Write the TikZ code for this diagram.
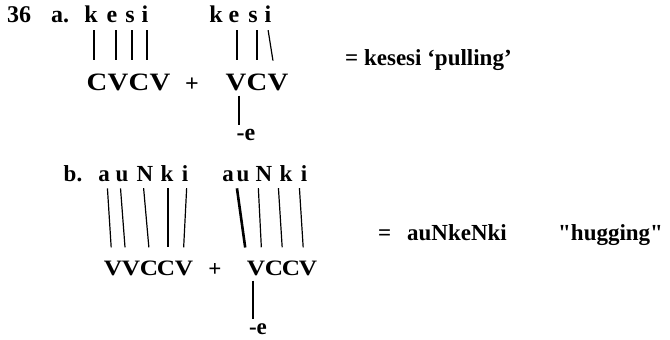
\documentclass[tikz,border=0pt]{standalone}
\usepackage{fontspec}
\setmainfont{Liberation Serif}[Ligatures=TeXOff]
\newfontfamily\slotfont{Liberation Serif}[FakeStretch=1.15, Ligatures=TeXOff]
\usetikzlibrary{positioning}

\begin{document}
\begin{tikzpicture}[x=1pt, y=-1pt,
  seg/.style={inner sep=0pt, anchor=base, font=\fontsize{24}{28}\selectfont\bfseries},
  slot/.style={inner sep=0pt, anchor=base, font=\slotfont\fontsize{25}{30}\selectfont\bfseries},
  segb/.style={seg, font=\fontsize{23}{27}\selectfont\bfseries},
  slotb/.style={slot, font=\slotfont\fontsize{22}{26}\selectfont\bfseries},
  link/.style={line width=1.2pt, shorten <=7pt, shorten >=13pt},
  heavy/.style={link, line width=2.6pt},
  stem/.style={line width=1.2pt, shorten <=5pt, shorten >=4pt}
]
  \useasboundingbox (0,0) rectangle (670,340);

  % 36 a.
  \node[seg] (num) at (19,23) {36};
  \node[seg] (laba) at (60,23) {a.};
  \node[seg] (ak) at (91,23) {k};
  \node[seg] (ae) at (112,23) {e};
  \node[seg] (as) at (130,23) {s};
  \node[seg] (ai) at (145,23) {i};
  \node[slot] (aC1) at (97,90) {C};
  \node[slot] (aV1) at (118,90) {V};
  \node[slot] (aC2) at (139,90) {C};
  \node[slot] (aV2) at (160,90) {V};
  \draw[link] ([xshift=3pt]ak.south) -- ([xshift=-3pt]aC1.north);
  \draw[link] ([xshift=4pt]ae.south) -- ([xshift=-2pt]aV1.north);
  \draw[link] ([xshift=2pt]as.south) -- ([xshift=-7pt]aC2.north);
  \draw[link] ([xshift=2pt]ai.south) -- ([xshift=-13pt]aV2.north);
  \node[seg] (aplus) at (192,91) {+};

  \node[seg] (bk) at (216,23) {k};
  \node[seg] (be) at (234,23) {e};
  \node[seg] (bs) at (253,23) {s};
  \node[seg] (bi) at (268,23) {i};
  \node[slot] (bV1) at (236,90) {V};
  \node[slot] (bC1) at (257,90) {C};
  \node[slot] (bV2) at (278,90) {V};
  \draw[heavy] ([xshift=3pt]be.south) -- ([xshift=1pt]bV1.north);
  \draw[link] ([xshift=4pt]bs.south) -- (bC1.north);
  \draw[link] ([xshift=-1pt]bi.south) -- ([xshift=-3pt]bV2.north);
  \node[seg] (bsuf) at (246,140) {-e};
  \draw[stem] ([xshift=3pt]bV1.south) -- ([xshift=-7pt]bsuf.north);

  \node[segb, anchor=base west] (gloss1) at (345,65) {= kesesi ‘pulling’};

  % b.
  \node[segb] (labb) at (73,181) {b.};
  \node[segb] (ca) at (104,181) {a};
  \node[segb] (cu) at (122,181) {u};
  \node[segb] (cN) at (145,181) {N};
  \node[segb] (ck) at (167,181) {k};
  \node[segb] (ci) at (185,181) {i};
  \node[slotb] (cV1) at (113,275) {V};
  \node[slotb] (cV2) at (131,275) {V};
  \node[slotb] (cC1) at (149,275) {C};
  \node[slotb] (cC2) at (166,275) {C};
  \node[slotb] (cV3) at (184,275) {V};
  \draw[link] ([xshift=3pt]ca.south) -- ([xshift=-1pt]cV1.north);
  \draw[link] ([xshift=-2pt]cu.south) -- ([xshift=-5pt]cV2.north);
  \draw[link] ([xshift=-2pt]cN.south) -- ([xshift=1pt]cC1.north);
  \draw[link] ([xshift=1pt]ck.south) -- ([xshift=2pt]cC2.north);
  \draw[link] ([xshift=2pt]ci.south) -- ([xshift=-1pt]cV3.north);
  \node[segb] (cplus) at (215,276) {+};

  \node[segb] (da) at (228,181) {a};
  \node[segb] (du) at (243,181) {u};
  \node[segb] (dN) at (264,181) {N};
  \node[segb] (dk) at (286,181) {k};
  \node[segb] (di) at (304,181) {i};
  \node[slotb] (dV1) at (256,275) {V};
  \node[slotb] (dC1) at (274,275) {C};
  \node[slotb] (dC2) at (291,275) {C};
  \node[slotb] (dV2) at (308,275) {V};
  \draw[heavy] ([xshift=8pt]da.south) -- ([xshift=-9pt]dV1.north);
  \draw[link] ([xshift=-6pt]dN.south) -- ([xshift=-12pt]dC1.north);
  \draw[link] ([xshift=-8pt]dk.south) -- ([xshift=-8pt]dC2.north);
  \draw[link] ([xshift=-5pt]di.south) -- ([xshift=-4pt]dV2.north);
  \node[segb] (dsuf) at (258,334) {-e};
  \draw[stem] ([xshift=-3pt]dV1.south) -- ([xshift=-5pt]dsuf.north);

  \node[segb, anchor=base west] (eq2) at (378,240) {=};
  \node[segb, anchor=base west] (gloss2) at (407,240) {auNkeNki};
  \node[segb, anchor=base west] (gloss3) at (558,240) {"hugging"};
\end{tikzpicture}
\end{document}
